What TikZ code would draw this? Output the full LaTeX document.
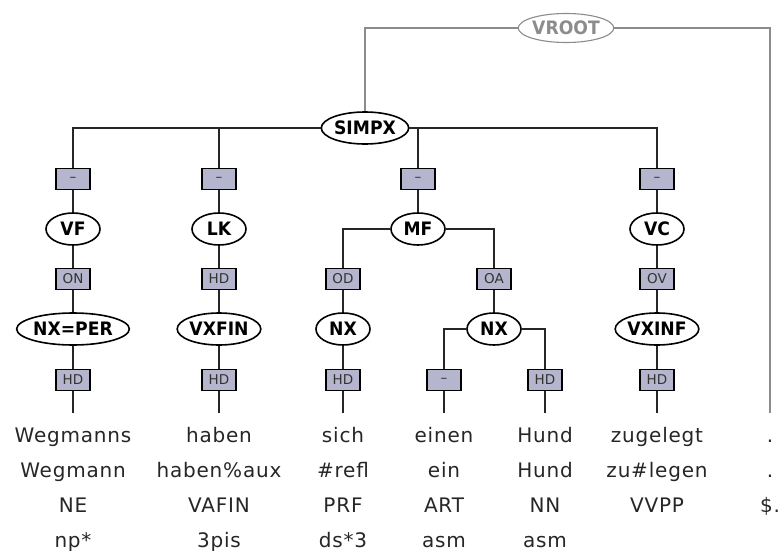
\documentclass[tikz,border=0pt]{standalone}
\usepackage{fontspec}
\setmainfont{DejaVu Sans}
\newfontfamily\tokfont[LetterSpace=4]{DejaVu Sans}
\newfontfamily\catfont[FakeStretch=0.93]{DejaVu Sans}
\usetikzlibrary{shapes.geometric}
\definecolor{lblfill}{RGB}{181,181,205}
\definecolor{rootgray}{RGB}{140,140,140}
\begin{document}
\begin{tikzpicture}[x=1pt,y=-1pt,
  cat/.style={ellipse, draw=black, line width=1.6pt, fill=white, inner sep=0pt,
    minimum height=32pt, minimum width=54pt, font=\catfont\fontsize{18.5}{18.5}\selectfont\bfseries},
  rootcat/.style={ellipse, draw=rootgray, line width=1.1pt, fill=white, inner sep=0pt,
    minimum height=29pt, minimum width=95pt, text=rootgray, font=\catfont\fontsize{18.5}{18.5}\selectfont\bfseries},
  fn/.style={rectangle, draw=black, line width=1.6pt, fill=lblfill, minimum width=34pt,
    minimum height=21pt, inner sep=0pt, font=\fontsize{13.5}{13.5}\selectfont, text=black!80},
  link/.style={line width=1.5pt, black!85},
  rootlink/.style={line width=1.1pt, rootgray},
  tok/.style={anchor=base, inner sep=0pt, text=black!85, font=\tokfont\fontsize{20}{20}\selectfont}]
\useasboundingbox (0,0) rectangle (779,551);

% root and clause
\node[rootcat] (vroot) at (566,28) {VROOT};
\node[cat, minimum width=83pt] (simpx) at (365,128) {SIMPX};

% topological fields
\node[fn] (f1) at (73,179) {–};
\node[fn] (f2) at (219,179) {–};
\node[fn] (f3) at (418,179) {–};
\node[fn] (f4) at (657,179) {–};
\node[cat] (vf) at (73,229) {VF};
\node[cat] (lk) at (219,229) {LK};
\node[cat] (mf) at (418,229) {MF};
\node[cat] (vc) at (657,229) {VC};

% grammatical functions
\node[fn] (on) at (73,279) {ON};
\node[fn] (hdlk) at (219,279) {HD};
\node[fn] (od) at (343,279) {OD};
\node[fn] (oa) at (494,279) {OA};
\node[fn] (ov) at (657,279) {OV};

% phrases
\node[cat, minimum width=99pt] (nxper) at (73,329) {NX=PER};
\node[cat, minimum width=82pt] (vxfin) at (219,329) {VXFIN};
\node[cat] (nxod) at (343,329) {NX};
\node[cat] (nxoa) at (494,329) {NX};
\node[cat, minimum width=81pt] (vxinf) at (657,329) {VXINF};

% heads and determiner
\node[fn] (h1) at (73,380) {HD};
\node[fn] (h2) at (219,380) {HD};
\node[fn] (h3) at (343,380) {HD};
\node[fn] (det) at (444,380) {–};
\node[fn] (h5) at (545,380) {HD};
\node[fn] (h6) at (657,380) {HD};

% token attachment points
\coordinate (t1) at (73,413);
\coordinate (t2) at (219,413);
\coordinate (t3) at (343,413);
\coordinate (t4) at (444,413);
\coordinate (t5) at (545,413);
\coordinate (t6) at (657,413);
\coordinate (t7) at (770,413);

% virtual root
\draw[rootlink] (vroot.west) -| (simpx.north);
\draw[rootlink] (vroot.east) -| (t7);

% clause level
\draw[link] (simpx.west) -| (f1.north);
\draw[link] (f2.north) |- (simpx.west);
\draw[link] (simpx.east) -| (f3.north);
\draw[link] (simpx.east) -| (f4.north);

% vertical chains
\draw[link] (f1) -- (vf) -- (on) -- (nxper) -- (h1) -- (t1);
\draw[link] (f2) -- (lk) -- (hdlk) -- (vxfin) -- (h2) -- (t2);
\draw[link] (f3) -- (mf);
\draw[link] (f4) -- (vc) -- (ov) -- (vxinf) -- (h6) -- (t6);

% middle field
\draw[link] (mf.west) -| (od.north);
\draw[link] (mf.east) -| (oa.north);
\draw[link] (od) -- (nxod) -- (h3) -- (t3);
\draw[link] (oa) -- (nxoa);
\draw[link] (nxoa.west) -| (det.north);
\draw[link] (nxoa.east) -| (h5.north);
\draw[link] (det) -- (t4);
\draw[link] (h5) -- (t5);

% tokens: word form, lemma, POS, morphology
\foreach \x/\w/\l/\p/\m [count=\i] in {
  73/Wegmanns/Wegmann/NE/np*,
  219/haben/haben\%aux/VAFIN/3pis,
  343/sich/\#refl/PRF/ds*3,
  444/einen/ein/ART/asm,
  545/Hund/Hund/NN/asm,
  657/zugelegt/zu\#legen/VVPP/,
  770/././\$./} {
  \node[tok] (w\i) at (\x,442) {\w};
  \node[tok] (l\i) at (\x,477) {\l};
  \node[tok] (p\i) at (\x,512) {\p};
  \node[tok] (m\i) at (\x,547) {\m};
}
\end{tikzpicture}
\end{document}
